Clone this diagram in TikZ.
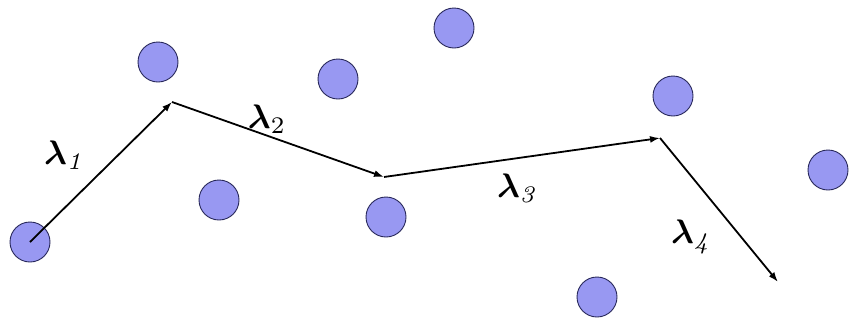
\documentclass[tikz,border=0pt]{standalone}
\usepackage{amsmath,bm}
\usetikzlibrary{arrows.meta}
\definecolor{dotfill}{RGB}{152,152,242}
\definecolor{dotline}{RGB}{40,40,90}
\newcommand{\lamlab}[1]{\scalebox{3.4}{$\boldsymbol{\lambda}_{#1}$}}
\tikzset{
  dot/.style={circle,draw=dotline,fill=dotfill,line width=0.9pt,minimum size=40pt,inner sep=0pt},
  walk/.style={line width=1.8pt,-{Latex[length=10pt,width=7pt]}},
  lamnode/.style={inner sep=0pt}
}
\begin{document}
\begin{tikzpicture}[x=1pt,y=-1pt]
\useasboundingbox (0,0) rectangle (849,325);
\node[dot] (c1) at (30,242) {};
\node[dot] (c2) at (158,62) {};
\node[dot] (c3) at (338,79) {};
\node[dot] (c4) at (454,28) {};
\node[dot] (c5) at (219,200) {};
\node[dot] (c6) at (386,217) {};
\node[dot] (c7) at (673,96) {};
\node[dot] (c8) at (828,170) {};
\node[dot] (c9) at (597,297) {};
\coordinate (p1) at (c1.center);
\coordinate (p2) at (172,102);
\coordinate (p3) at (384,177);
\coordinate (p4) at (660,138);
\coordinate (p5) at (778,282);
\draw[walk] (p1) -- (p2);
\draw[walk] (p2) -- (p3);
\draw[walk] (p3) -- (p4);
\draw[walk] (p4) -- (p5);
\node[lamnode] (l1) at (65,155) {\lamlab{\mathit{1}}};
\node[lamnode] (l2) at (267,119) {\lamlab{2}};
\node[lamnode] (l3) at (518,188) {\lamlab{\mathit{3}}};
\node[lamnode] (l4) at (692,237) {\lamlab{\mathit{4}}};
\end{tikzpicture}
\end{document}
